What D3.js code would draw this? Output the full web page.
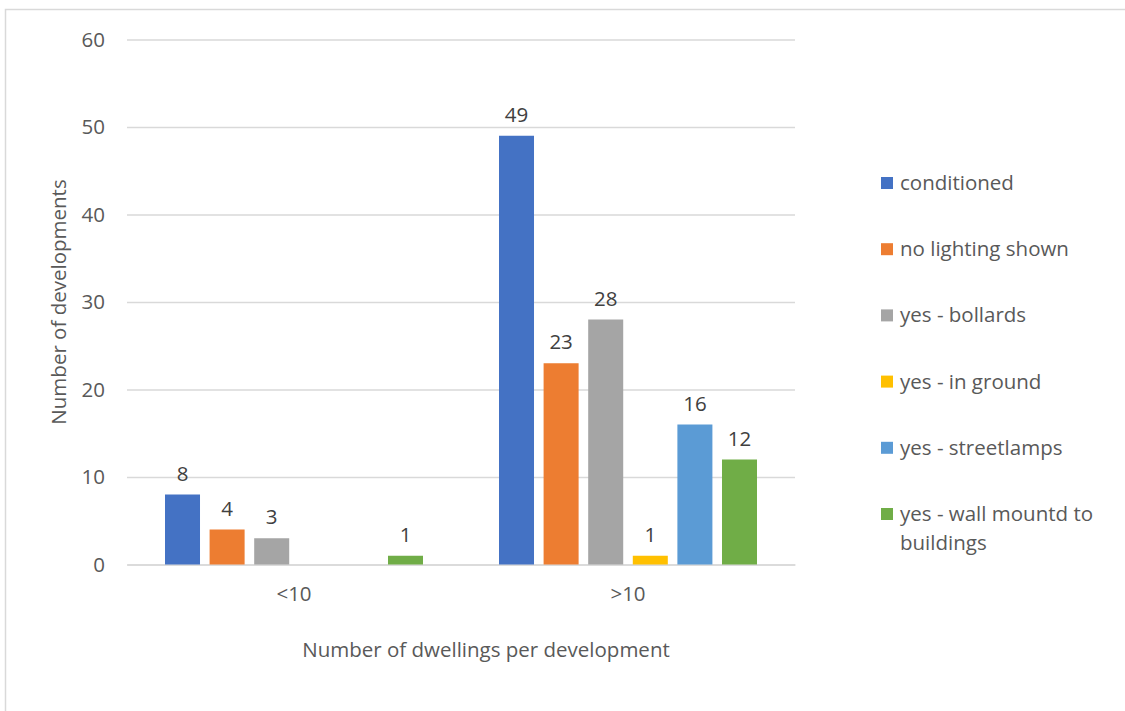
<!DOCTYPE html>
<html>
<head>
<meta charset="utf-8">
<script src="https://cdn.jsdelivr.net/npm/d3@7/dist/d3.min.js"></script>
<style>
  html, body { margin: 0; padding: 0; background: #ffffff; }
  svg { display: block; }
  text { font-family: "Open Sans", "Noto Sans", sans-serif; }
</style>
</head>
<body>
<div id="chart"></div>
<script>
// Dwelling-size groups along the x axis
const categories = ["<10", ">10"];

// Lighting types (one bar per type in each group)
const seriesNames = [
  "conditioned",
  "no lighting shown",
  "yes - bollards",
  "yes - in ground",
  "yes - streetlamps",
  "yes - wall mountd to buildings"
];

// Number of developments per lighting type, in category order (null = no entry)
const conditioned     = [8, 49];
const noLighting      = [4, 23];
const bollards        = [3, 28];
const inGround        = [null, 1];
const streetlamps     = [null, 16];
const wallMounted     = [1, 12];

const seriesValues = [conditioned, noLighting, bollards, inGround, streetlamps, wallMounted];

const colors = ["#4472C4", "#ED7D31", "#A5A5A5", "#FFC000", "#5B9BD5", "#70AD47"];

const yTicks = [0, 10, 20, 30, 40, 50, 60];

const W = 1125, H = 711;
const plot = { left: 127, right: 795, top: 39.5, bottom: 564.5 };
const FS = "20.5px";

const svg = d3.select("#chart").append("svg")
  .attr("width", W).attr("height", H);

// chart-area frame
svg.append("path")
  .attr("d", `M${W + 2},9.5 H5.5 V${H + 2}`)
  .attr("fill", "none")
  .attr("stroke", "#D9D9D9")
  .attr("stroke-width", 1.5);

const y = d3.scaleLinear().domain([0, 60]).range([plot.bottom, plot.top]);
const x0 = d3.scaleBand().domain(categories).range([plot.left, plot.right]).padding(0);
const inner = 38;
const x1 = d3.scaleBand().domain(seriesNames)
  .range([inner, x0.bandwidth() - inner])
  .paddingInner(0.215).paddingOuter(0);

// horizontal gridlines
const yAxis = d3.axisLeft(y).tickValues(yTicks).tickSize(-(plot.right - plot.left)).tickPadding(22);
const gy = svg.append("g").attr("transform", `translate(${plot.left},0)`).call(yAxis);
gy.select(".domain").remove();
gy.selectAll(".tick line").attr("stroke", "#D9D9D9").attr("stroke-width", 1.4);
gy.selectAll(".tick text")
  .attr("fill", "#595959")
  .style("font-size", FS)
  .style("font-family", "'Open Sans', sans-serif");

// category labels
const xAxis = d3.axisBottom(x0).tickSize(0).tickPadding(22);
const gx = svg.append("g").attr("transform", `translate(0,${plot.bottom})`).call(xAxis);
gx.select(".domain").attr("stroke", "#D9D9D9").attr("stroke-width", 1.4);
gx.selectAll(".tick text")
  .attr("fill", "#595959")
  .style("font-size", FS)
  .style("font-family", "'Open Sans', sans-serif");

// flatten into bar records
const bars = [];
categories.forEach((cat, ci) => {
  seriesNames.forEach((s, si) => {
    const v = seriesValues[si][ci];
    if (v !== null && v !== undefined) bars.push({ cat, s, si, v });
  });
});

const barG = svg.append("g");
barG.selectAll("rect").data(bars).join("rect")
  .attr("x", d => x0(d.cat) + x1(d.s))
  .attr("width", x1.bandwidth())
  .attr("y", d => y(d.v))
  .attr("height", d => y(0) - y(d.v))
  .attr("fill", d => colors[d.si]);

// value labels above bars
barG.selectAll("text").data(bars).join("text")
  .attr("x", d => x0(d.cat) + x1(d.s) + x1.bandwidth() / 2)
  .attr("y", d => y(d.v) - 14)
  .attr("text-anchor", "middle")
  .attr("fill", "#404040")
  .style("font-size", FS)
  .text(d => d.v);

// axis titles
svg.append("text")
  .attr("x", (plot.left + plot.right) / 2 + 25)
  .attr("y", 657)
  .attr("text-anchor", "middle")
  .attr("fill", "#595959")
  .style("font-size", FS)
  .text("Number of dwellings per development");

svg.append("text")
  .attr("transform", `translate(66,${(plot.top + plot.bottom) / 2}) rotate(-90)`)
  .attr("text-anchor", "middle")
  .attr("fill", "#595959")
  .style("font-size", FS)
  .text("Number of developments");

// legend
const legend = svg.append("g").attr("transform", "translate(881,0)");
const legendTop = 183, legendStep = 66.2, lineH = 29, maxTextW = 205;

seriesNames.forEach((name, i) => {
  const row = legend.append("g").attr("transform", `translate(0,${legendTop + i * legendStep})`);
  row.append("rect")
    .attr("x", 0).attr("y", -6).attr("width", 12).attr("height", 12)
    .attr("fill", colors[i]);
  const t = row.append("text")
    .attr("x", 19).attr("y", 7)
    .attr("fill", "#595959")
    .style("font-size", FS);
  // wrap long labels over several lines
  const words = name.split(" ");
  let line = [];
  let tspan = t.append("tspan").attr("x", 19).attr("dy", 0);
  words.forEach(w => {
    line.push(w);
    tspan.text(line.join(" "));
    if (tspan.node().getComputedTextLength() > maxTextW && line.length > 1) {
      line.pop();
      tspan.text(line.join(" "));
      line = [w];
      tspan = t.append("tspan").attr("x", 19).attr("dy", lineH).text(w);
    }
  });
});
</script>
</body>
</html>
